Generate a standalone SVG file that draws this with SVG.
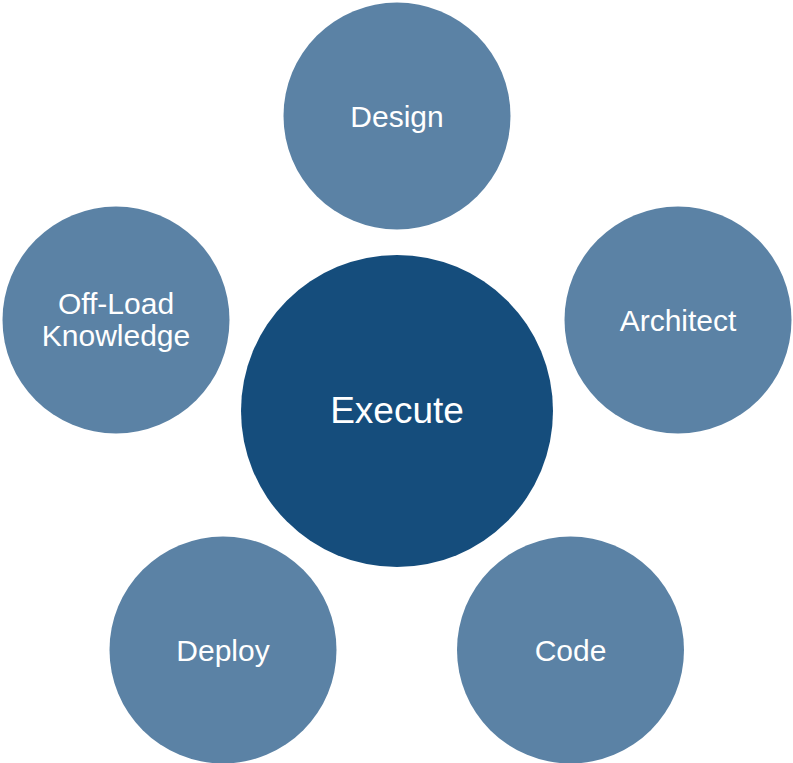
<svg xmlns="http://www.w3.org/2000/svg" width="793" height="763" viewBox="0 0 793 763">
<style>
.outer{fill:#5b82a5}
.center{fill:#154d7c}
.lbl{fill:#ffffff;font-family:"Liberation Sans",Arial,sans-serif;font-size:30px;text-anchor:middle}
.big{fill:#ffffff;font-family:"Liberation Sans",Arial,sans-serif;font-size:37px;text-anchor:middle}
</style>
<rect width="793" height="763" fill="#ffffff"/>
<g id="connectors"></g>
<g id="design"><circle class="outer" cx="397" cy="116" r="113.5"/><text class="lbl" x="397" y="126.5">Design</text></g>
<g id="architect"><circle class="outer" cx="678" cy="320" r="113.5"/><text class="lbl" x="678" y="330.5">Architect</text></g>
<g id="offload"><circle class="outer" cx="116" cy="320" r="113.5"/><text class="lbl" x="116" y="313.5">Off-Load</text><text class="lbl" x="116" y="346">Knowledge</text></g>
<g id="deploy"><circle class="outer" cx="223" cy="650" r="113.5"/><text class="lbl" x="223" y="660.5">Deploy</text></g>
<g id="code"><circle class="outer" cx="570.5" cy="650" r="113.5"/><text class="lbl" x="570.5" y="660.5">Code</text></g>
<g id="execute"><circle class="center" cx="397" cy="411" r="156"/><text class="big" x="397" y="423">Execute</text></g>
</svg>
